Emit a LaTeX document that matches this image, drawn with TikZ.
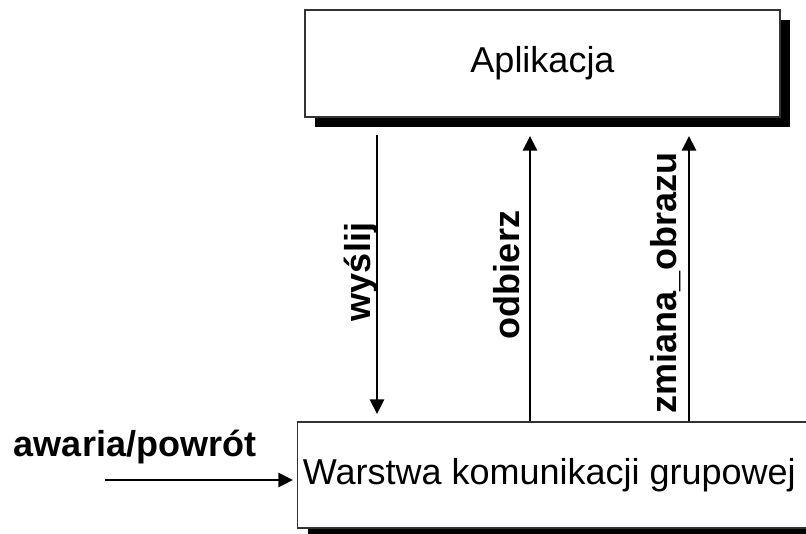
\documentclass[tikz,border=0pt]{standalone}
\usepackage{fontspec}
\setmainfont{Liberation Sans}
\usepackage{tikz}
\usetikzlibrary{arrows.meta,shadows}
\tikzset{
Blok/.style={
 rectangle,
 draw=black!80,
 line width=0.9pt,
 fill=white,
 inner sep=0pt,
 font=\fontsize{27}{32}\selectfont,
 drop shadow={shadow xshift=7.5pt,shadow yshift=-7.5pt,fill=black,opacity=1}
 },
Podpis/.style={
 inner sep=0pt,
 font=\fontsize{27}{32}\selectfont\bfseries
 },
Strzalka/.style={
 draw=black,
 line width=2.2pt,
 -{Triangle[length=11pt,width=10.5pt]}
 }
}

\begin{document}
\begin{tikzpicture}[x=0.75pt,y=-0.75pt]
\useasboundingbox (0,0) rectangle (806,533);
\node[Blok,minimum width=356.25pt,minimum height=80.25pt] (app) at (542.5,63.5) {Aplikacja};
\node[Blok,anchor=west,minimum height=79.5pt,inner xsep=4pt] (gkg) at (297,475) {\makebox[380pt][l]{Warstwa komunikacji grupowej}};
\coordinate (wysA) at (377,135);
\coordinate (wysB) at (377,414);
\coordinate (odbB) at (530,136);
\coordinate (zmiB) at (689,136);
\coordinate (awaA) at (105,480);
\draw[Strzalka] (wysA) -- (wysB);
\draw[Strzalka] (gkg.north -| odbB) -- (odbB);
\draw[Strzalka] (gkg.north -| zmiB) -- (zmiB);
\draw[Strzalka,shorten >=3pt] (awaA) -- (gkg.west |- awaA);
\node[Podpis,rotate=90] (wyslij) at (361,272) {wyślij};
\node[Podpis,rotate=90] (odbierz) at (507,275) {odbierz};
\node[Podpis,rotate=90] (zmiana) at (666,283) {zmiana\_obrazu};
\node[Podpis] (awaria) at (135,447) {awaria/powrót};
\end{tikzpicture}
\end{document}
